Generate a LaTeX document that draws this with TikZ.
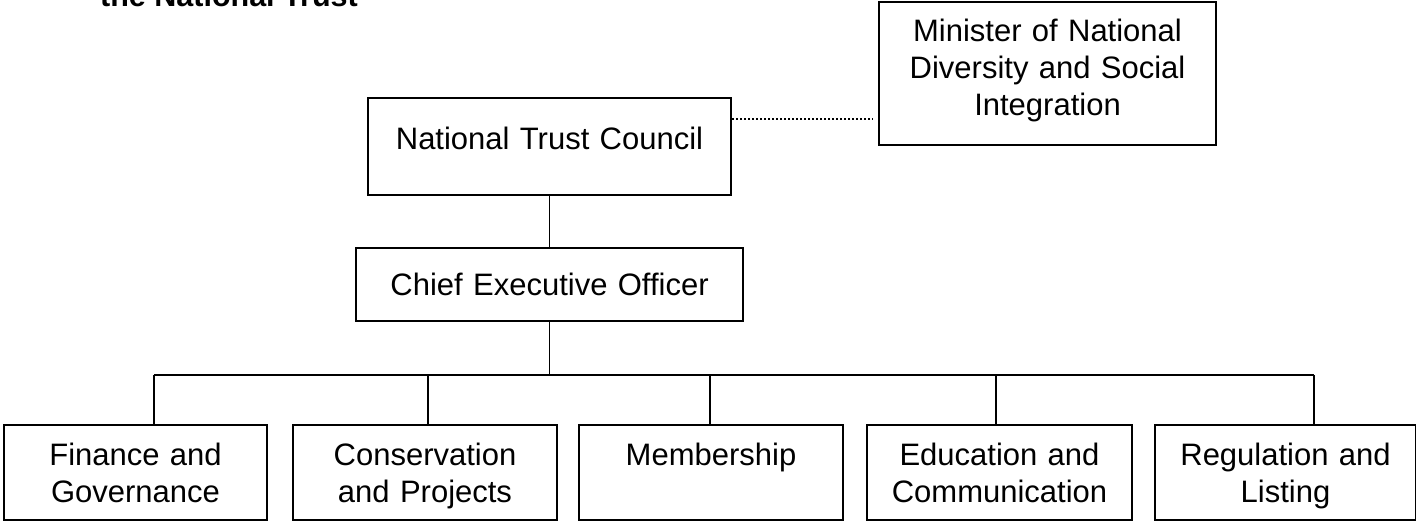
\documentclass[tikz,border=0pt]{standalone}
\usepackage{fontspec}
\setmainfont{Liberation Sans}
\usetikzlibrary{positioning, calc}
\tikzset{
x=1pt, y=-1pt,
box/.style={%
    rectangle,
    draw=black,
    line width=2pt,
    anchor=north west,
    inner sep=0pt,
    align=center,
    % Font
    font=\fontsize{31}{37}\selectfont,
},
unit/.style={%
    box, text height=40pt, text depth=55pt,
},
link/.style={line width=1.5pt},
dotlink/.style={line width=2pt, dash pattern=on 2pt off 2pt},
}

\begin{document}
\begin{tikzpicture}
\useasboundingbox (0,0) rectangle (1416,521);

\node[anchor=base west,inner sep=0pt,font=\bfseries\fontsize{30.5}{37}\selectfont] (title) at (100,7) {the National Trust};

\node[box,text width=337pt,text height=40pt,text depth=103pt] (minister) at (878,1) {Minister of National\\Diversity and Social\\Integration};
\node[box,text width=363pt,text height=52pt,text depth=45pt] (council) at (367,97) {National Trust Council};
\node[box,text width=387pt,text height=47pt,text depth=26pt] (ceo) at (355,247) {Chief Executive Officer};

\node[unit,text width=263pt] (finance) at (3,424) {Finance and\\Governance};
\node[unit,text width=264pt] (projects) at (292,424) {Conservation\\and Projects};
\node[unit,text width=264pt] (members) at (578,424) {Membership};
\node[unit,text width=265pt] (education) at (866,424) {Education and\\Communication};
\node[unit,text width=261pt] (listing) at (1154,424) {Regulation and\\Listing};

% bus
\coordinate (bus) at (ceo.south |- 0,375);
\foreach \name/\x in {finance/154, projects/428, members/710, education/996, listing/1314}
  \coordinate (t\name) at (\x,375);

\coordinate (dot) at ($(council.north east)+(0,22)$);
\draw[dotlink,shorten >=5pt] (dot) -- (dot -| minister.west);

\draw[link] (council) -- (ceo);
\draw[link] (ceo) -- (bus);
\draw[link] (tfinance) -- (tlisting);
\foreach \name in {finance, projects, members, education, listing}
  \draw[link] (t\name) -- (t\name |- \name.north);

\end{tikzpicture}
\end{document}
